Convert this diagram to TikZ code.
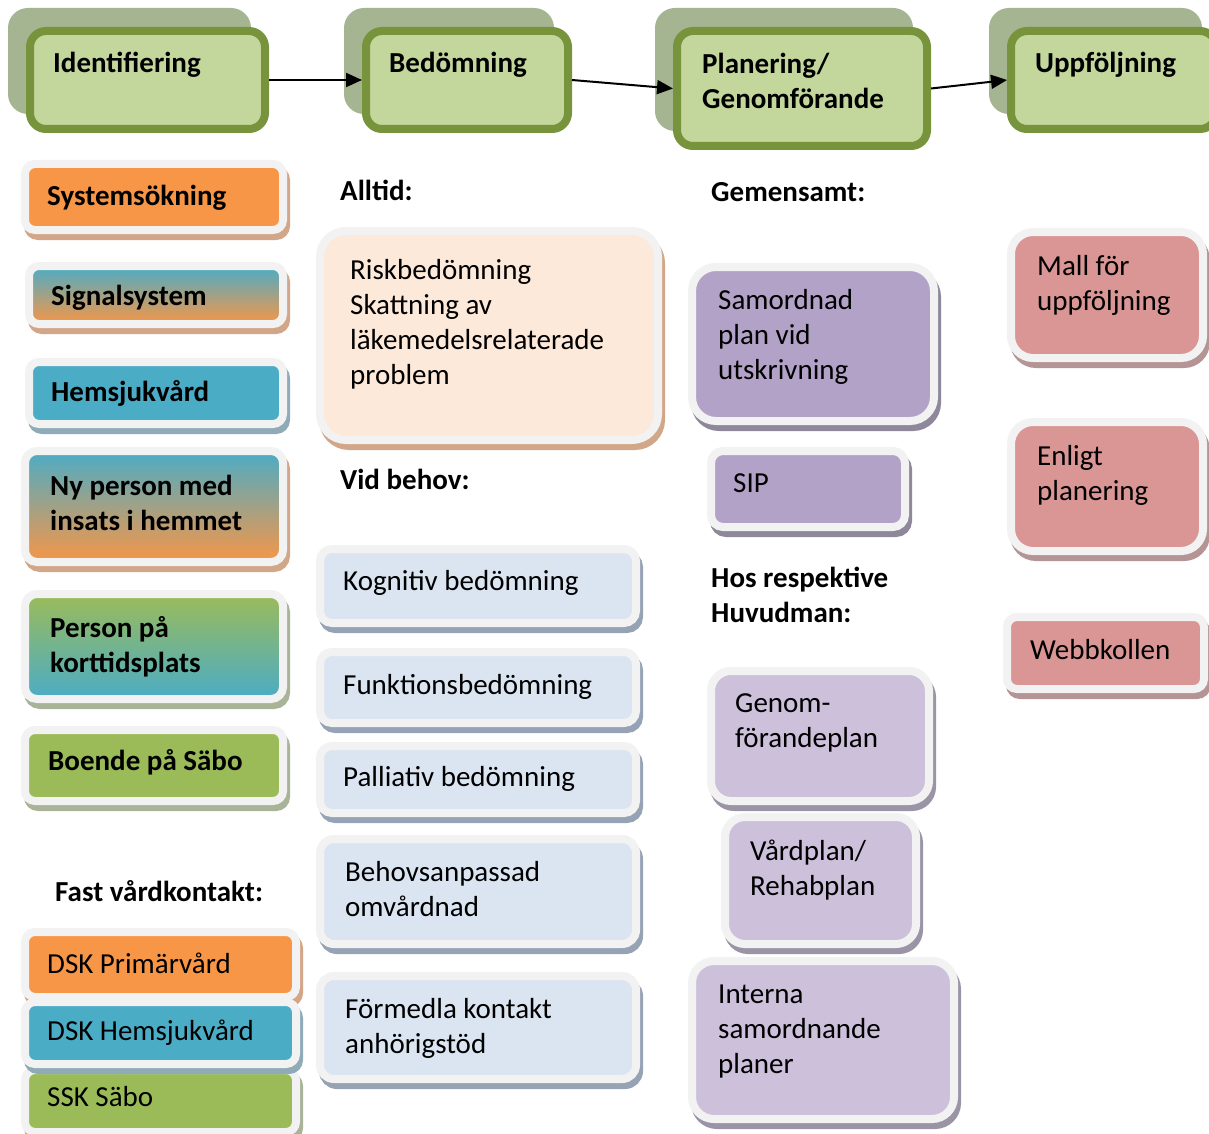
\documentclass[tikz,border=0pt]{standalone}
\usepackage{fontspec}
\setmainfont{Carlito}
\usetikzlibrary{arrows.meta}
\definecolor{hdrfill}{HTML}{C3D69B}
\definecolor{hdrline}{HTML}{77933C}
\definecolor{hdrshade}{HTML}{A5B592}
\definecolor{rim}{HTML}{F2F2F2}
\definecolor{orng}{HTML}{F79646}
\definecolor{orngsh}{HTML}{D2A688}
\definecolor{blu}{HTML}{4BACC6}
\definecolor{blush}{HTML}{8FABB8}
\definecolor{grn}{HTML}{9BBB59}
\definecolor{grnsh}{HTML}{A8B398}
\definecolor{peach}{HTML}{FDE9D9}
\definecolor{ltblu}{HTML}{DBE5F1}
\definecolor{ltblush}{HTML}{95A3B4}
\definecolor{purp}{HTML}{B2A2C7}
\definecolor{purpsh}{HTML}{8E889A}
\definecolor{ltpurp}{HTML}{CCC0DA}
\definecolor{ltpurpsh}{HTML}{9A94A6}
\definecolor{pink}{HTML}{D99694}
\definecolor{pinksh}{HTML}{B49494}
\tikzset{
  hdr/.style={anchor=north west, inner sep=0pt, draw=hdrline, fill=hdrfill, line width=8pt, rounded corners=16pt,
    preaction={draw=hdrshade, fill=hdrshade, line width=8pt, transform canvas={shift={(-18pt,19pt)}}}},
  card/.style n args={3}{anchor=north west, inner sep=0pt, draw=rim, fill=#1, line width=8pt, rounded corners=#3,
    preaction={draw=#2, fill=#2, line width=8pt, transform canvas={shift={(3pt,-6pt)}}}},
  gcard/.style n args={4}{card={#1}{#3}{#4}, top color=#1, bottom color=#2},
  txt/.style={anchor=north west, inner sep=0pt, align=left, font=\fontsize{29}{35}\selectfont, execute at begin node=\strut},
  btxt/.style={txt, font=\fontsize{29}{35}\selectfont\bfseries},
  flow/.style={line width=2pt, -{Triangle[length=16pt,width=14pt]}}
}
\begin{document}
\begin{tikzpicture}[x=1pt,y=-1pt]
\path[use as bounding box, fill=white] (0,0) rectangle (1209,1134);
% Step headers
\node[hdr, minimum width=235pt, minimum height=98pt] (ident) at (26,27) {};
\node[hdr, minimum width=202pt, minimum height=98pt] (bedom) at (362,27) {};
\node[hdr, minimum width=250pt, minimum height=115pt] (plan) at (673,27) {};
\node[hdr, minimum width=205pt, minimum height=98pt] (uppf) at (1007,27) {};
\node[btxt] (ident-t) at (53,47.5) {Identifiering};
\node[btxt] (bedom-t) at (389,47.5) {Bedömning};
\node[btxt] (plan-t) at (702,52.5) {Planering/\\Genomförande};
\node[btxt] (uppf-t) at (1035,47.5) {Uppföljning};
\draw[flow] (ident.east) -- (bedom.west);
\draw[flow] (bedom.east) -- (plan.west);
\draw[flow] (plan.east) -- (uppf.west);
% Column 1: Identifiering
\node[card={orng}{orngsh}{10pt}, minimum width=258pt, minimum height=66pt] (syst) at (21,160) {};
\node[gcard={blu}{orng}{orngsh}{10pt}, minimum width=254pt, minimum height=58pt] (signal) at (25,262) {};
\node[card={blu}{blush}{10pt}, minimum width=254pt, minimum height=62pt] (hemsj) at (25,358) {};
\node[gcard={blu}{orng}{orngsh}{12pt}, minimum width=258pt, minimum height=111pt] (nyp) at (21,447) {};
\node[gcard={grn}{blu}{grnsh}{12pt}, minimum width=258pt, minimum height=105pt] (kort) at (21,590) {};
\node[card={grn}{grnsh}{10pt}, minimum width=258pt, minimum height=71pt] (sabo) at (21,726) {};
\node[btxt] (syst-t) at (47,180.5) {Systemsökning};
\node[btxt] (signal-t) at (51,280.5) {Signalsystem};
\node[btxt] (hemsj-t) at (51,376.5) {Hemsjukvård};
\node[btxt] (nyp-t) at (50,474.5) {Ny person med\\insats i hemmet};
\node[btxt] (kort-t) at (50,616.5) {Person på\\korttidsplats};
\node[btxt] (sabo-t) at (48,745.5) {Boende på Säbo};
% Fast vardkontakt
\node[btxt] (fast-t) at (55,876.5) {Fast vårdkontakt:};
\node[card={orng}{orngsh}{10pt}, minimum width=271pt, minimum height=65pt] (dskp) at (21,928) {};
\node[card={grn}{grnsh}{10pt}, minimum width=271pt, minimum height=62pt] (ssk) at (21,1066) {};
\node[card={blu}{blush}{10pt}, minimum width=271pt, minimum height=62pt] (dskh) at (21,998) {};
\node[txt] (dskp-t) at (47,948.5) {DSK Primärvård};
\node[txt] (dskh-t) at (47,1015.5) {DSK Hemsjukvård};
\node[txt] (ssk-t) at (47,1081.5) {SSK Säbo};
% Column 2: Bedomning
\node[btxt] (alltid-t) at (340,175.5) {Alltid:};
\node[card={peach}{orngsh}{26pt}, minimum width=338pt, minimum height=209pt] (risk) at (316,227) {};
\node[txt] (risk-t) at (350,259.5) {Riskbedömning\\Skattning av\\läkemedelsrelaterade\\problem};
\node[btxt] (vid-t) at (340,464.5) {Vid behov:};
\node[card={ltblu}{ltblush}{12pt}, minimum width=316pt, minimum height=74pt] (kogn) at (316,545) {};
\node[card={ltblu}{ltblush}{12pt}, minimum width=316pt, minimum height=71pt] (funk) at (316,648) {};
\node[card={ltblu}{ltblush}{12pt}, minimum width=316pt, minimum height=67pt] (pall) at (316,742) {};
\node[card={ltblu}{ltblush}{14pt}, minimum width=316pt, minimum height=105pt] (behov) at (316,835) {};
\node[card={ltblu}{ltblush}{14pt}, minimum width=316pt, minimum height=103pt] (formedla) at (316,972) {};
\node[txt] (kogn-t) at (343,565.5) {Kognitiv bedömning};
\node[txt] (funk-t) at (343,669.5) {Funktionsbedömning};
\node[txt] (pall-t) at (343,761.5) {Palliativ bedömning};
\node[txt] (behov-t) at (345,861.5) {Behovsanpassad\\omvårdnad};
\node[txt] (formedla-t) at (345,998.5) {Förmedla kontakt\\anhörigstöd};
% Column 3: Planering/Genomforande
\node[btxt] (gem-t) at (711,176.5) {Gemensamt:};
\node[card={purp}{purpsh}{24pt}, minimum width=242pt, minimum height=154pt] (samord) at (688,263) {};
\node[card={purp}{purpsh}{12pt}, minimum width=194pt, minimum height=76pt] (sip) at (707,447) {};
\node[txt] (samord-t) at (718,289.5) {Samordnad\\plan vid\\utskrivning};
\node[txt] (sip-t) at (733,467.5) {SIP};
\node[btxt] (hos-t) at (711,566.5) {Hos respektive\\Huvudman:};
\node[card={ltpurp}{ltpurpsh}{20pt}, minimum width=218pt, minimum height=130pt] (genom) at (707,667) {};
\node[card={ltpurp}{ltpurpsh}{20pt}, minimum width=191pt, minimum height=127pt] (vard) at (721,813) {};
\node[card={ltpurp}{ltpurpsh}{22pt}, minimum width=262pt, minimum height=158pt] (interna) at (688,957) {};
\node[txt] (genom-t) at (735,693.5) {Genom-\\förandeplan};
\node[txt] (vard-t) at (750,839.5) {Vårdplan/\\Rehabplan};
\node[txt] (interna-t) at (718,985) {Interna\\samordnande\\planer};
% Column 4: Uppfoljning
\node[card={pink}{pinksh}{22pt}, minimum width=192pt, minimum height=126pt] (mall) at (1007,228) {};
\node[card={pink}{pinksh}{22pt}, minimum width=192pt, minimum height=129pt] (enligt) at (1007,418) {};
\node[card={pink}{pinksh}{10pt}, minimum width=197pt, minimum height=72pt] (webb) at (1003,613) {};
\node[txt] (mall-t) at (1037,255.5) {Mall för\\uppföljning};
\node[txt] (enligt-t) at (1037,445.5) {Enligt\\planering};
\node[txt] (webb-t) at (1030,634.5) {Webbkollen};
\end{tikzpicture}
\end{document}
